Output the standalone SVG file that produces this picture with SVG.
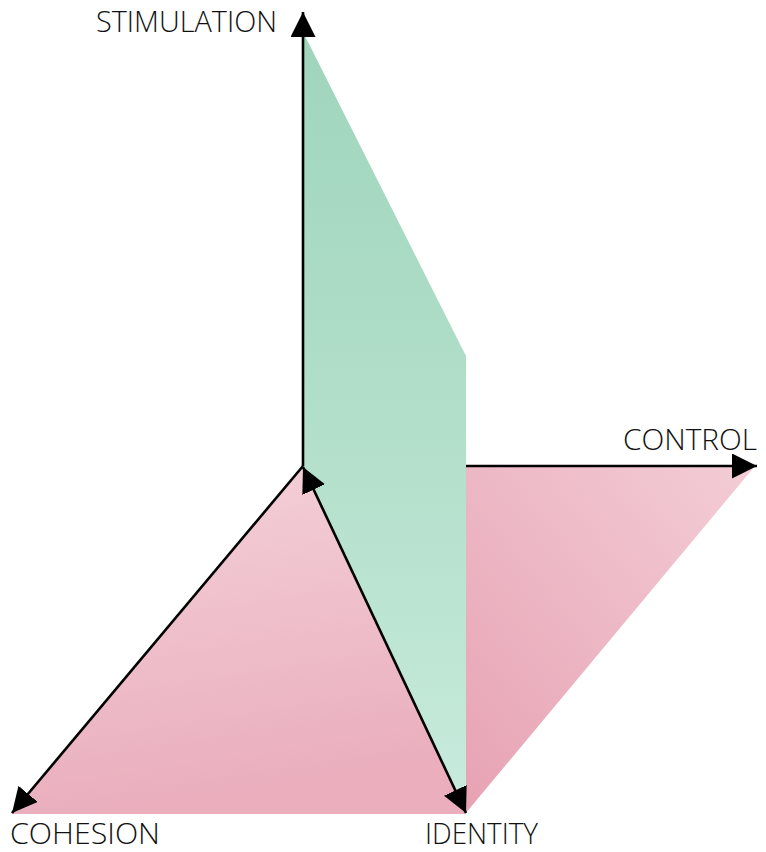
<svg xmlns="http://www.w3.org/2000/svg" width="766" height="852" viewBox="0 0 766 852">
  <style>
    .axis { stroke: #000; stroke-width: 2.6; fill: none; }
    .lbl { font-family: "Open Sans", "Liberation Sans", sans-serif; font-size: 29px; fill: #111; font-weight: 300; }
  </style>
  <defs>
    <marker id="ah" viewBox="0 0 10 10" refX="10" refY="5" markerUnits="userSpaceOnUse" markerWidth="25" markerHeight="25" orient="auto-start-reverse">
      <path d="M0,0 L10,5 L0,10 z" fill="#000"/>
    </marker>
    <linearGradient id="pinkL" x1="0" y1="0" x2="0.2" y2="1">
      <stop offset="0" stop-color="#f4d2da"/>
      <stop offset="1" stop-color="#eaaebd"/>
    </linearGradient>
    <linearGradient id="pinkR" x1="1" y1="0" x2="0" y2="1">
      <stop offset="0" stop-color="#f3cdd6"/>
      <stop offset="1" stop-color="#e7a2b3"/>
    </linearGradient>
    <linearGradient id="green" x1="0" y1="0" x2="0" y2="1">
      <stop offset="0" stop-color="#9fd5bc"/>
      <stop offset="0.6" stop-color="#b6e1cd"/>
      <stop offset="1" stop-color="#c8ebdd"/>
    </linearGradient>
  </defs>

  <g id="planes">
    <polygon id="pink-right" points="465,466 755,466 465,814" fill="url(#pinkR)"/>
    <polygon id="pink-left" points="303,466 12,814 466,814" fill="url(#pinkL)"/>
    <polygon id="green-plane" points="304,34 466,356 466,813 303,466" fill="url(#green)"/>
  </g>

  <g id="connectors">
    <line class="axis" x1="303" y1="466" x2="303" y2="12" marker-end="url(#ah)"/>
    <line class="axis" x1="466" y1="466" x2="757" y2="466" marker-end="url(#ah)"/>
    <line class="axis" x1="303" y1="466" x2="12" y2="813" marker-end="url(#ah)"/>
    <line class="axis" x1="303" y1="467" x2="466" y2="813" marker-start="url(#ah)" marker-end="url(#ah)"/>
  </g>

  <g id="stimulation"><text class="lbl" x="96" y="32" textLength="181" lengthAdjust="spacingAndGlyphs">STIMULATION</text></g>
  <g id="control"><text class="lbl" x="623" y="450" textLength="134" lengthAdjust="spacingAndGlyphs">CONTROL</text></g>
  <g id="cohesion"><text class="lbl" x="10" y="844" textLength="150" lengthAdjust="spacingAndGlyphs">COHESION</text></g>
  <g id="identity"><text class="lbl" x="425" y="844" textLength="113" lengthAdjust="spacingAndGlyphs">IDENTITY</text></g>
</svg>
